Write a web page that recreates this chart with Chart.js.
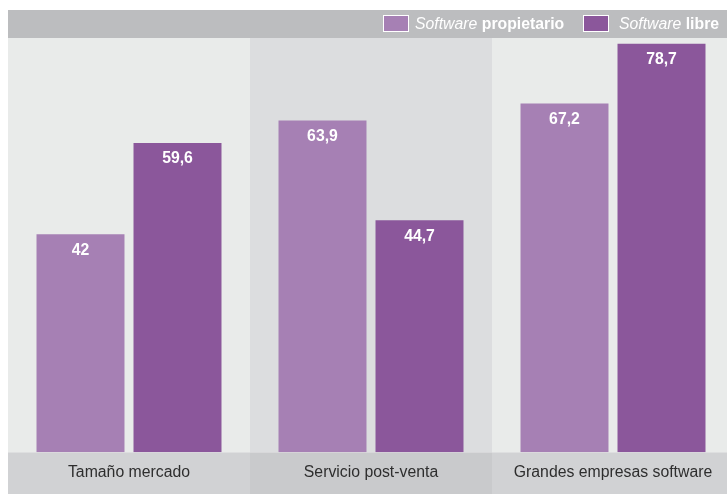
<!DOCTYPE html>
<html>
<head>
<meta charset="utf-8">
<script src="https://cdn.jsdelivr.net/npm/chart.js@4/dist/chart.umd.min.js"></script>
<style>
  html, body { margin: 0; padding: 0; background: #fff; overflow: hidden; }
  #wrap { position: relative; width: 727px; height: 494px; overflow: hidden; }
  #legend { position: absolute; left: 0; top: 10px; height: 28px; width: 727px;
            font-family: "Liberation Sans", Arial, Helvetica, sans-serif; font-size: 15.8px; color: #fff; }
  .sw { position: absolute; top: 4.7px; width: 26px; height: 17px; box-sizing: border-box; border: 1.5px solid #fff; }
  .lt { position: absolute; top: 0; line-height: 28px; white-space: nowrap; }
  .lt i { font-weight: normal; }
  .lt b { font-weight: bold; }
</style>
</head>
<body>
<div id="wrap">
  <canvas id="chart" width="734" height="494"></canvas>
  <div id="legend"></div>
</div>
<script>
// Data
const categories = ['Tamaño mercado', 'Servicio post-venta', 'Grandes empresas software'];
const seriesNames = ['Software propietario', 'Software libre'];
const propietario = [42, 63.9, 67.2];
const libre = [59.6, 44.7, 78.7];

// Colors
const barColors = ['#a680b4', '#8b579b'];
const bandColors = ['#e9ebea', '#dcdddf', '#e9ebea'];
const footColors = ['#d1d2d4', '#c9cacc', '#d1d2d4'];
const headerColor = '#bcbdbf';
const fontFamily = '"Liberation Sans", Arial, Helvetica, sans-serif';

// Legend (HTML, first word italic, rest bold)
const legendEl = document.getElementById('legend');
const legendPos = [[383, 415], [583, 619]];
seriesNames.forEach((name, i) => {
    const sw = document.createElement('div');
    sw.className = 'sw';
    sw.style.left = legendPos[i][0] + 'px';
    sw.style.background = barColors[i];
    legendEl.appendChild(sw);

    const parts = name.split(' ');
    const txt = document.createElement('div');
    txt.className = 'lt';
    txt.style.left = legendPos[i][1] + 'px';
    txt.innerHTML = '<i>' + parts[0] + '</i> <b>' + parts.slice(1).join(' ') + '</b>';
    legendEl.appendChild(txt);
});

// Backgrounds: header strip, category bands, footer bands
const backgroundPlugin = {
    id: 'bands',
    beforeDraw(chart) {
        const { ctx, chartArea, width, height } = chart;
        const band = chartArea.width / categories.length;
        ctx.save();
        ctx.fillStyle = headerColor;
        ctx.fillRect(chartArea.left, 10, width - chartArea.left, chartArea.top - 10);
        categories.forEach((c, i) => {
            const x = chartArea.left + i * band;
            ctx.fillStyle = bandColors[i];
            ctx.fillRect(x, chartArea.top, band, chartArea.bottom - chartArea.top);
            ctx.fillStyle = footColors[i];
            ctx.fillRect(x, chartArea.bottom, band, height - chartArea.bottom);
        });
        ctx.restore();
    }
};

// Value labels inside the top of each bar
const valueLabels = {
    id: 'valueLabels',
    afterDatasetsDraw(chart) {
        const { ctx } = chart;
        ctx.save();
        ctx.fillStyle = '#ffffff';
        ctx.font = 'bold 15.8px ' + fontFamily;
        ctx.textAlign = 'center';
        ctx.textBaseline = 'middle';
        chart.data.datasets.forEach((ds, di) => {
            chart.getDatasetMeta(di).data.forEach((bar, i) => {
                const label = String(ds.data[i]).replace('.', ',');
                ctx.fillText(label, bar.x, bar.y + 16);
            });
        });
        ctx.restore();
    }
};

new Chart(document.getElementById('chart'), {
    type: 'bar',
    data: {
        labels: categories,
        datasets: [
            { label: seriesNames[0], data: propietario, backgroundColor: barColors[0] },
            { label: seriesNames[1], data: libre, backgroundColor: barColors[1] }
        ]
    },
    options: {
        responsive: false,
        animation: false,
        events: [],
        categoryPercentage: 0.8017,
        barPercentage: 0.907,
        layout: { padding: { left: 8, right: 0, top: 38, bottom: 1 } },
        plugins: {
            legend: { display: false },
            tooltip: { enabled: false }
        },
        scales: {
            x: {
                grid: { display: false, drawTicks: false },
                border: { display: false },
                ticks: {
                    color: '#2e2e2e',
                    padding: 11,
                    font: { family: fontFamily, size: 15.8, lineHeight: 1.18 }
                }
            },
            y: {
                display: false,
                min: 0,
                max: 79.8
            }
        }
    },
    plugins: [backgroundPlugin, valueLabels]
});
</script>
</body>
</html>
